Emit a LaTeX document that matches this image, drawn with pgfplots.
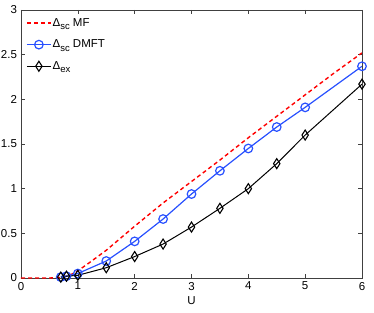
\documentclass[border=0pt]{standalone}
\usepackage{fontspec}
\setmainfont{Liberation Sans}
\usepackage{pgfplots}
\pgfplotsset{compat=1.18}
\definecolor{mblue}{RGB}{40,80,255}
\newcommand{\sub}[1]{\raisebox{-0.55ex}{\fontsize{9.5bp}{9.5bp}\selectfont #1}}
\pgfplotsset{longlegend/.style={legend image code/.code={%
  \draw[mark repeat=2,mark phase=2,##1] plot coordinates {(0bp,0bp) (12bp,0bp) (24bp,0bp)};}}}
\begin{document}
\fontsize{11.5bp}{13bp}\selectfont
\begin{tikzpicture}
\path[use as bounding box] (-21bp,-35bp) rectangle (353bp,278bp);
\begin{axis}[
  at={(0,0)}, anchor=origin,
  scale only axis, width=341bp, height=268bp,
  xmin=0, xmax=6, ymin=0, ymax=3,
  xtick={0,1,2,3,4,5,6},
  ytick={0,0.5,1,1.5,2,2.5,3},
  tick align=inside, major tick length=4bp,
  axis line style={black!75, line width=0.6bp},
  tick style={black!75, line width=0.5bp},
  /pgf/number format/assume math mode=true,
  tick label style={font=\fontsize{11.5bp}{13bp}\selectfont},
  xlabel={U},
  xlabel style={at={(axis description cs:0.5,0)}, anchor=north, yshift=-18bp, inner sep=0pt},
  legend style={at={(axis description cs:0.0,0.985)}, anchor=north west, draw=none, fill=none,
    font=\fontsize{11.5bp}{13bp}\selectfont, row sep=8bp, inner xsep=5bp, inner ysep=2bp,
    nodes={inner xsep=1bp}},
  legend cell align=left,
  longlegend,
]
\addplot[red, dash pattern=on 4bp off 3bp, line width=1.4bp] coordinates {
(0,0)(0.5,0)(0.7,0.005)(0.8,0.02)(0.9,0.045)(1.0,0.08)(1.2,0.17)(1.5,0.31)(2,0.58)(2.5,0.84)(3,1.08)(3.5,1.32)(4,1.57)(4.5,1.81)(5,2.05)(5.5,2.29)(6,2.52)};
\addlegendentry{Δ\sub{sc} MF}
\addplot[mblue, line width=1.2bp, mark=o, mark size=4.3bp, mark options={line width=1.2bp, solid}] coordinates {
(0.7,0.01)(0.8,0.02)(1,0.05)(1.5,0.19)(2,0.41)(2.5,0.66)(3,0.94)(3.5,1.20)(4,1.45)(4.5,1.69)(5,1.91)(6,2.37)};
\addlegendentry{Δ\sub{sc} DMFT}
\addplot[black, line width=1bp, mark=diamond, mark size=5bp, mark options={line width=1.1bp, xscale=0.85, solid}] coordinates {
(0.7,0.01)(0.8,0.02)(1,0.03)(1.5,0.115)(2,0.24)(2.5,0.38)(3,0.57)(3.5,0.78)(4,1.00)(4.5,1.28)(5,1.60)(6,2.17)};
\addlegendentry{Δ\sub{ex}}
\end{axis}
\end{tikzpicture}
\end{document}
